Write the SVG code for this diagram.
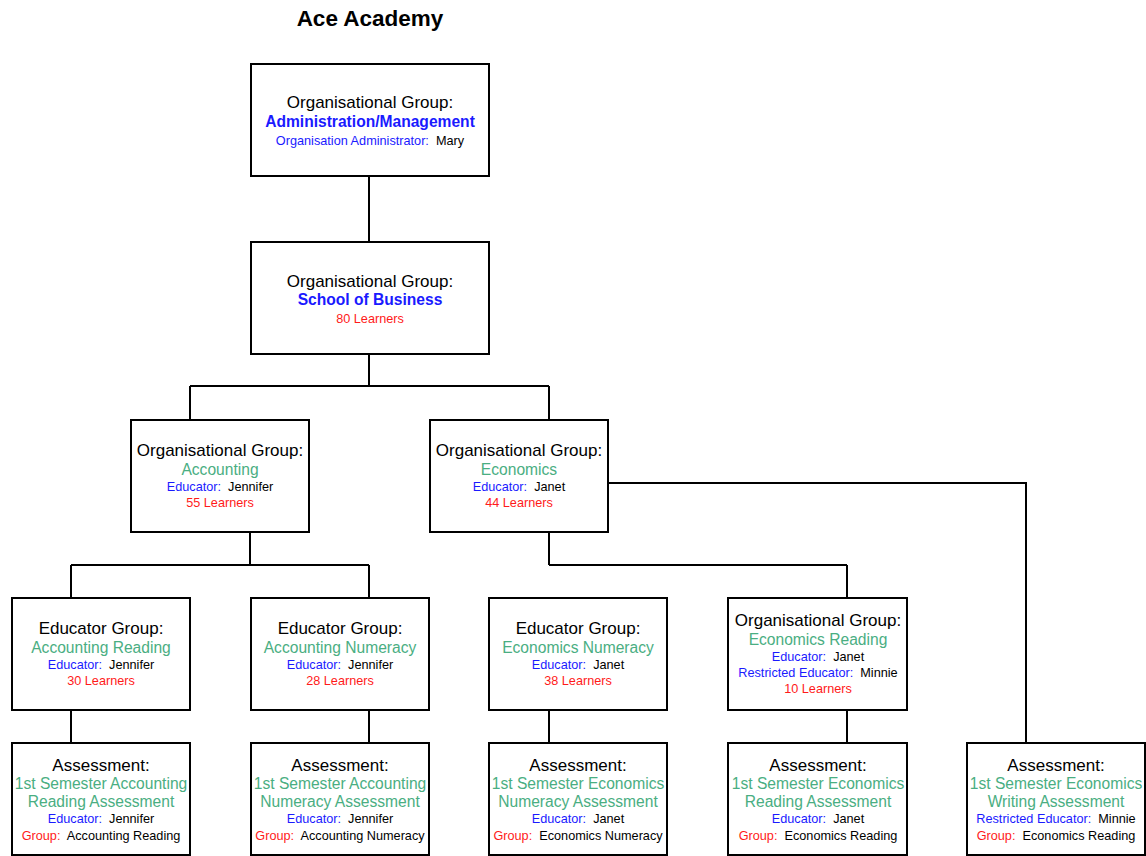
<svg xmlns="http://www.w3.org/2000/svg" width="1146" height="856" viewBox="0 0 1146 856">
<style>
text{font-family:"Liberation Sans",Arial,sans-serif;text-anchor:middle;fill:#000}
.box{fill:#fff;stroke:#000;stroke-width:2}
.conn path{fill:none;stroke:#000;stroke-width:2}
.h{font-size:17px}
.b{font-size:15.6px;font-weight:bold;fill:#1a1aff}
.g{font-size:15.6px;fill:#4aae82}
.s{font-size:12.7px}
.bl{fill:#1a1aff}
.r{fill:#ff1a1a}
.title{font-size:22.5px;font-weight:bold}
</style>
<rect width="1146" height="856" fill="#fff"/>
<text class="title" x="370" y="26">Ace Academy</text>
<g id="connectors" class="conn">
<path d="M369,177V242"/>
<path d="M369,354V386M190,386H549M190,386V420M549,386V420"/>
<path d="M250,532V565M71,565H369M71,565V598M369,565V598"/>
<path d="M549,532V565M549,565H847M847,565V598"/>
<path d="M608,483H1026V743"/>
<path d="M71,710V743M369,710V743M549,710V743M847,710V743"/>
</g>
<g id="admin">
<rect class="box" x="251" y="64" width="238" height="112"/>
<text class="h" x="370" y="108">Organisational Group:</text>
<text class="b" x="370" y="127">Administration/Management</text>
<text class="s" x="370" y="145" xml:space="preserve"><tspan class="bl">Organisation Administrator:</tspan>  Mary</text>
</g>
<g id="business">
<rect class="box" x="251" y="242" width="238" height="112"/>
<text class="h" x="370" y="287">Organisational Group:</text>
<text class="b" x="370" y="305">School of Business</text>
<text class="s r" x="370" y="323">80 Learners</text>
</g>
<g id="accounting">
<rect class="box" x="131" y="420" width="178" height="112"/>
<text class="h" x="220" y="456">Organisational Group:</text>
<text class="g" x="220" y="475">Accounting</text>
<text class="s" x="220" y="491" xml:space="preserve"><tspan class="bl">Educator:</tspan>  Jennifer</text>
<text class="s r" x="220" y="507">55 Learners</text>
</g>
<g id="economics">
<rect class="box" x="430" y="420" width="178" height="112"/>
<text class="h" x="519" y="456">Organisational Group:</text>
<text class="g" x="519" y="475">Economics</text>
<text class="s" x="519" y="491" xml:space="preserve"><tspan class="bl">Educator:</tspan>  Janet</text>
<text class="s r" x="519" y="507">44 Learners</text>
</g>
<g id="acc-reading">
<rect class="box" x="12" y="598" width="178" height="112"/>
<text class="h" x="101" y="634">Educator Group:</text>
<text class="g" x="101" y="653">Accounting Reading</text>
<text class="s" x="101" y="669" xml:space="preserve"><tspan class="bl">Educator:</tspan>  Jennifer</text>
<text class="s r" x="101" y="685">30 Learners</text>
</g>
<g id="acc-numeracy">
<rect class="box" x="251" y="598" width="178" height="112"/>
<text class="h" x="340" y="634">Educator Group:</text>
<text class="g" x="340" y="653">Accounting Numeracy</text>
<text class="s" x="340" y="669" xml:space="preserve"><tspan class="bl">Educator:</tspan>  Jennifer</text>
<text class="s r" x="340" y="685">28 Learners</text>
</g>
<g id="eco-numeracy">
<rect class="box" x="489" y="598" width="178" height="112"/>
<text class="h" x="578" y="634">Educator Group:</text>
<text class="g" x="578" y="653">Economics Numeracy</text>
<text class="s" x="578" y="669" xml:space="preserve"><tspan class="bl">Educator:</tspan>  Janet</text>
<text class="s r" x="578" y="685">38 Learners</text>
</g>
<g id="eco-reading">
<rect class="box" x="728" y="598" width="179" height="112"/>
<text class="h" x="818" y="626">Organisational Group:</text>
<text class="g" x="818" y="645">Economics Reading</text>
<text class="s" x="818" y="661" xml:space="preserve"><tspan class="bl">Educator:</tspan>  Janet</text>
<text class="s" x="818" y="677" xml:space="preserve"><tspan class="bl">Restricted Educator:</tspan>  Minnie</text>
<text class="s r" x="818" y="693">10 Learners</text>
</g>
<g id="assess-acc-reading">
<rect class="box" x="12" y="743" width="178" height="112"/>
<text class="h" x="101" y="771">Assessment:</text>
<text class="g" x="101" y="789">1st Semester Accounting</text>
<text class="g" x="101" y="807">Reading Assessment</text>
<text class="s" x="101" y="823" xml:space="preserve"><tspan class="bl">Educator:</tspan>  Jennifer</text>
<text class="s" x="101" y="840" xml:space="preserve"><tspan class="r">Group:</tspan>  Accounting Reading</text>
</g>
<g id="assess-acc-numeracy">
<rect class="box" x="251" y="743" width="178" height="112"/>
<text class="h" x="340" y="771">Assessment:</text>
<text class="g" x="340" y="789">1st Semester Accounting</text>
<text class="g" x="340" y="807">Numeracy Assessment</text>
<text class="s" x="340" y="823" xml:space="preserve"><tspan class="bl">Educator:</tspan>  Jennifer</text>
<text class="s" x="340" y="840" xml:space="preserve"><tspan class="r">Group:</tspan>  Accounting Numeracy</text>
</g>
<g id="assess-eco-numeracy">
<rect class="box" x="489" y="743" width="178" height="112"/>
<text class="h" x="578" y="771">Assessment:</text>
<text class="g" x="578" y="789">1st Semester Economics</text>
<text class="g" x="578" y="807">Numeracy Assessment</text>
<text class="s" x="578" y="823" xml:space="preserve"><tspan class="bl">Educator:</tspan>  Janet</text>
<text class="s" x="578" y="840" xml:space="preserve"><tspan class="r">Group:</tspan>  Economics Numeracy</text>
</g>
<g id="assess-eco-reading">
<rect class="box" x="728" y="743" width="179" height="112"/>
<text class="h" x="818" y="771">Assessment:</text>
<text class="g" x="818" y="789">1st Semester Economics</text>
<text class="g" x="818" y="807">Reading Assessment</text>
<text class="s" x="818" y="823" xml:space="preserve"><tspan class="bl">Educator:</tspan>  Janet</text>
<text class="s" x="818" y="840" xml:space="preserve"><tspan class="r">Group:</tspan>  Economics Reading</text>
</g>
<g id="assess-eco-writing">
<rect class="box" x="967" y="743" width="178" height="112"/>
<text class="h" x="1056" y="771">Assessment:</text>
<text class="g" x="1056" y="789">1st Semester Economics</text>
<text class="g" x="1056" y="807">Writing Assessment</text>
<text class="s" x="1056" y="823" xml:space="preserve"><tspan class="bl">Restricted Educator:</tspan>  Minnie</text>
<text class="s" x="1056" y="840" xml:space="preserve"><tspan class="r">Group:</tspan>  Economics Reading</text>
</g>
</svg>
